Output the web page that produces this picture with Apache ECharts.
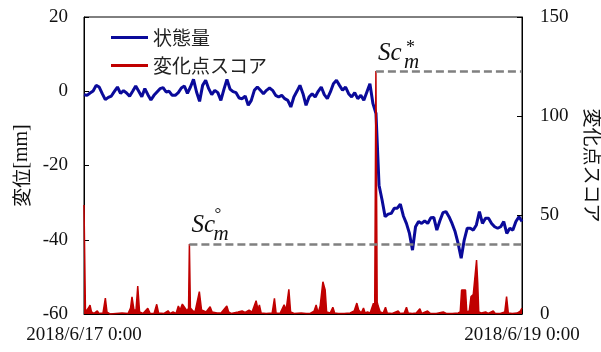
<!DOCTYPE html>
<html>
<head>
<meta charset="utf-8">
<script src="https://cdn.jsdelivr.net/npm/echarts@6/dist/echarts.min.js"></script>
<style>
  html, body { margin: 0; padding: 0; background: #fff; }
  #chart { width: 601px; height: 352px; }
</style>
</head>
<body>
<div id="chart"></div>
<script>
// 横軸: 2018/6/17 0:00 からの経過時間 [h]
const xLabels = ['2018/6/17 0:00', '2018/6/19 0:00'];
const spanHours = 48;
const stateStep = 1 / 3; // 状態量のサンプル間隔 [h]

// 状態量 [mm]
const stateValues = [
  -0.92, -1.10, -0.47, 0.07, 1.59, 1.14, -0.65, -2.27, -1.64, -1.28,
  -0.02, 1.14, -0.56, 0.16, -0.47, -1.37, -0.02, 1.41, -0.02, -1.46,
  0.70, -0.92, -2.36, -1.10, -0.20, 0.70, 0.96, -0.20, -0.02, -1.10,
  -1.10, -0.38, 0.87, 1.41, -0.56, 1.14, 3.21, -0.20, -2.72, 1.59,
  2.94, 0.70, -0.92, 0.25, -0.38, -2.45, 0.52, 3.21, 0.60, -0.10,
  -0.38, -1.82, -2.00, -1.28, -3.79, -2.45, 0.25, 1.14, 0.25, -0.65,
  0.25, 0.87, 0.25, -1.10, -1.55, -1.10, -2.00, -2.45, -4.24, -1.55,
  -0.02, 1.59, -0.65, -3.79, -1.55, -0.65, -1.55, -0.02, 1.14, -0.92,
  -2.00, -0.20, 2.04, 2.94, 1.59, 0.25, 1.14, -0.65, -1.55, -0.38,
  -2.00, -1.10, -2.45, -0.20, 2.04, -3.34,
  -6.0, -25.3, -29.3, -33.8, -33.1, -32.9, -31.5, -31.5, -30.4, -33.6,
  -35.6, -38.3, -42.8, -36.5, -35.1, -35.6, -34.9, -35.6, -34.1, -34.0,
  -37.4, -34.9, -32.7, -32.4, -33.8, -35.6, -37.8, -41.0, -45.0, -40.1,
  -36.9, -36.9, -37.4, -36.0, -32.4, -35.6, -34.2, -34.2, -35.6, -36.5,
  -36.9, -36.5, -35.1, -38.3, -36.9, -37.4, -35.1, -33.8, -35.1
];

// 変化点スコア [時間h, スコア]
const scorePoints = [
  [0.00, 55], [0.16, 1], [0.33, 0.5], [0.49, 3], [0.66, 4.5], [0.82, 1], [1.10, 0.3],
  [1.46, 1.6], [1.64, 0.3], [2.08, 0.5], [2.34, 8], [2.52, 1], [2.85, 0], [3.51, 0.3],
  [4.17, 0.5], [4.83, 0.2], [5.10, 3], [5.26, 8.7], [5.48, 2], [5.70, 2], [5.89, 14.1],
  [6.09, 1], [6.47, 0.3], [6.99, 2.9], [7.24, 0.3], [7.68, 0.3], [7.97, 4.9], [8.17, 0.5],
  [8.77, 0.3], [9.21, 1.6], [9.43, 0.3], [9.76, 1], [10.09, 0.3], [10.34, 4.0], [10.53, 2],
  [10.78, 5.0], [10.97, 4], [11.29, 1.5], [11.46, 3], [11.55, 35.4], [11.66, 3], [11.95, 1.5],
  [12.17, 1.0], [12.64, 11.3], [12.88, 2], [13.05, 1.5], [13.38, 1], [13.82, 3.7], [14.04, 1.0],
  [14.58, 0.5], [15.02, 0.5], [15.65, 4.0], [15.85, 1], [16.12, 0.3], [16.89, 1.0], [17.33, 1.5],
  [17.66, 0.8], [18.09, 2.0], [18.42, 1], [18.86, 6.7], [19.08, 2], [19.22, 4.6], [19.41, 0.5],
  [19.96, 0.3], [20.62, 0.5], [20.87, 7.9], [21.05, 0.5], [21.49, 0.3], [21.93, 4.6], [22.15, 2],
  [22.45, 12.5], [22.64, 1], [23.03, 0.3], [23.80, 0.5], [24.34, 0.3], [24.78, 0.3], [25.22, 1.5],
  [25.44, 4.6], [25.66, 0.5], [25.88, 4], [26.18, 16.3], [26.43, 12.1], [26.59, 1], [26.98, 0.5],
  [27.27, 3.4], [27.47, 0.5], [27.85, 0.2], [28.51, 0.3], [29.17, 0.5], [29.61, 1.5], [29.90, 5.5],
  [30.10, 2], [30.38, 0.5], [30.63, 3.0], [30.81, 0.5], [31.07, 1.0], [31.36, 0.5], [31.72, 5.4],
  [31.86, 4], [31.99, 122.7], [32.13, 6], [32.24, 4], [32.46, 1.0], [32.79, 0.5], [33.04, 3.4],
  [33.23, 0.5], [33.78, 0.3], [34.43, 1.5], [34.65, 0.3], [35.09, 0.5], [35.34, 3.4], [35.53, 0.5],
  [35.97, 0.3], [36.41, 0.5], [36.81, 2.7], [37.01, 0.3], [37.65, 1.5], [37.94, 0.3], [38.60, 0.3],
  [39.37, 1.0], [39.70, 0.3], [40.36, 0.3], [41.01, 0.5], [41.23, 1], [41.38, 12.1], [41.81, 12.1],
  [41.95, 1], [42.22, 1.5], [42.41, 8.8], [42.66, 9.8], [42.82, 9], [43.02, 27.3], [43.15, 15.5],
  [43.26, 1], [43.53, 0.5], [44.01, 1.0], [44.30, 0.3], [44.85, 1.5], [45.07, 0.3], [45.62, 0.3],
  [46.11, 1], [46.31, 8.8], [46.50, 0.5], [46.93, 0.3], [47.48, 0.5], [47.81, 1.5], [48.00, 3]
];

// しきい値 Sc_m° / Sc_m*
const thresholdStarts = [11.55, 31.99];
const thresholdValues = [35.4, 122.7];
const thresholdMarks = ['°', '*'];

const BLUE = '#0a0a9a';
const RED = '#c00000';
const SERIF = 'Liberation Serif';
const CJK = 'Noto Sans CJK JP';

const chart = echarts.init(document.getElementById('chart'));

// Sc の文字, 添字 m, 上付き記号 を別々の点ラベルで配置
const markPointData = [];
thresholdStarts.forEach((s, k) => {
  const coord = [s, thresholdValues[k]];
  markPointData.push({
    coord, label: { formatter: 'Sc', position: [2, -18], fontSize: 25, fontStyle: 'italic' }
  });
  markPointData.push({
    coord, label: { formatter: 'm', position: k === 0 ? [24, -9] : [28, -9], fontSize: 21, fontStyle: 'italic' }
  });
  markPointData.push({
    coord, label: { formatter: thresholdMarks[k], position: k === 0 ? [25, -29] : [30, -23], fontSize: k === 0 ? 17 : 18 }
  });
});

const option = {
  animation: false,
  backgroundColor: '#fff',
  grid: {
    left: 84, right: 79, top: 17, bottom: 38,
    outerBoundsMode: 'none',
    show: true, borderColor: '#000', borderWidth: 1, backgroundColor: 'transparent'
  },
  legend: {
    orient: 'vertical', left: 106, top: 23, itemWidth: 37, itemHeight: 3, itemGap: 9,
    icon: 'rect',
    textStyle: { fontFamily: CJK, fontSize: 19, color: '#222' },
    data: ['状態量', '変化点スコア']
  },
  xAxis: {
    type: 'value', min: 0, max: spanHours, interval: spanHours,
    axisLine: { onZero: false, lineStyle: { color: '#000', width: 1 } },
    axisTick: { show: false },
    splitLine: { show: false },
    axisLabel: {
      fontFamily: SERIF, fontSize: 19, color: '#111', margin: 12,
      showMinLabel: true, showMaxLabel: true,
      formatter: v => (v === 0 ? xLabels[0] : xLabels[1])
    }
  },
  yAxis: [
    {
      type: 'value', min: -60, max: 20, interval: 20,
      name: '{c|変位}{r|[mm]}', nameLocation: 'middle', nameRotate: 90, nameGap: 47,
      nameTextStyle: {
        rich: {
          c: { fontFamily: CJK, fontSize: 19, color: '#111' },
          r: { fontFamily: SERIF, fontSize: 20, color: '#111' }
        }
      },
      axisLine: { show: true, lineStyle: { color: '#000' } },
      axisTick: { show: true, inside: true, length: 5, lineStyle: { color: '#000' } },
      splitLine: { show: false },
      axisLabel: { fontFamily: SERIF, fontSize: 19, color: '#111', margin: 16 }
    },
    {
      type: 'value', min: 0, max: 150, interval: 50,
      name: '変化点スコア', nameLocation: 'middle', nameRotate: -90, nameGap: 61,
      nameTextStyle: { fontFamily: CJK, fontSize: 19, color: '#111' },
      axisLine: { show: true, lineStyle: { color: '#000' } },
      axisTick: { show: true, inside: true, length: 5, lineStyle: { color: '#000' } },
      splitLine: { show: false },
      axisLabel: { fontFamily: SERIF, fontSize: 19, color: '#111', margin: 18 }
    }
  ],
  series: [
    {
      name: '状態量', type: 'line', yAxisIndex: 0, symbol: 'none',
      data: stateValues.map((v, i) => [i * stateStep, v]),
      lineStyle: { color: BLUE, width: 3 },
      itemStyle: { color: BLUE },
      z: 2
    },
    {
      name: '変化点スコア', type: 'line', yAxisIndex: 1, symbol: 'none',
      data: scorePoints,
      lineStyle: { color: RED, width: 1.5 },
      areaStyle: { color: RED, opacity: 1 },
      itemStyle: { color: RED },
      z: 3,
      markLine: {
        silent: true, symbol: 'none',
        lineStyle: { color: '#808080', type: [8, 4], width: 2.5 },
        label: { show: false },
        data: thresholdStarts.map((s, k) => [
          { coord: [s, thresholdValues[k]] },
          { coord: [spanHours, thresholdValues[k]] }
        ])
      },
      markPoint: {
        silent: true, symbol: 'circle', symbolSize: 0,
        label: {
          show: true, fontFamily: SERIF, color: '#111', align: 'left', verticalAlign: 'middle'
        },
        data: markPointData
      }
    }
  ]
};

chart.setOption(option);
</script>
</body>
</html>
